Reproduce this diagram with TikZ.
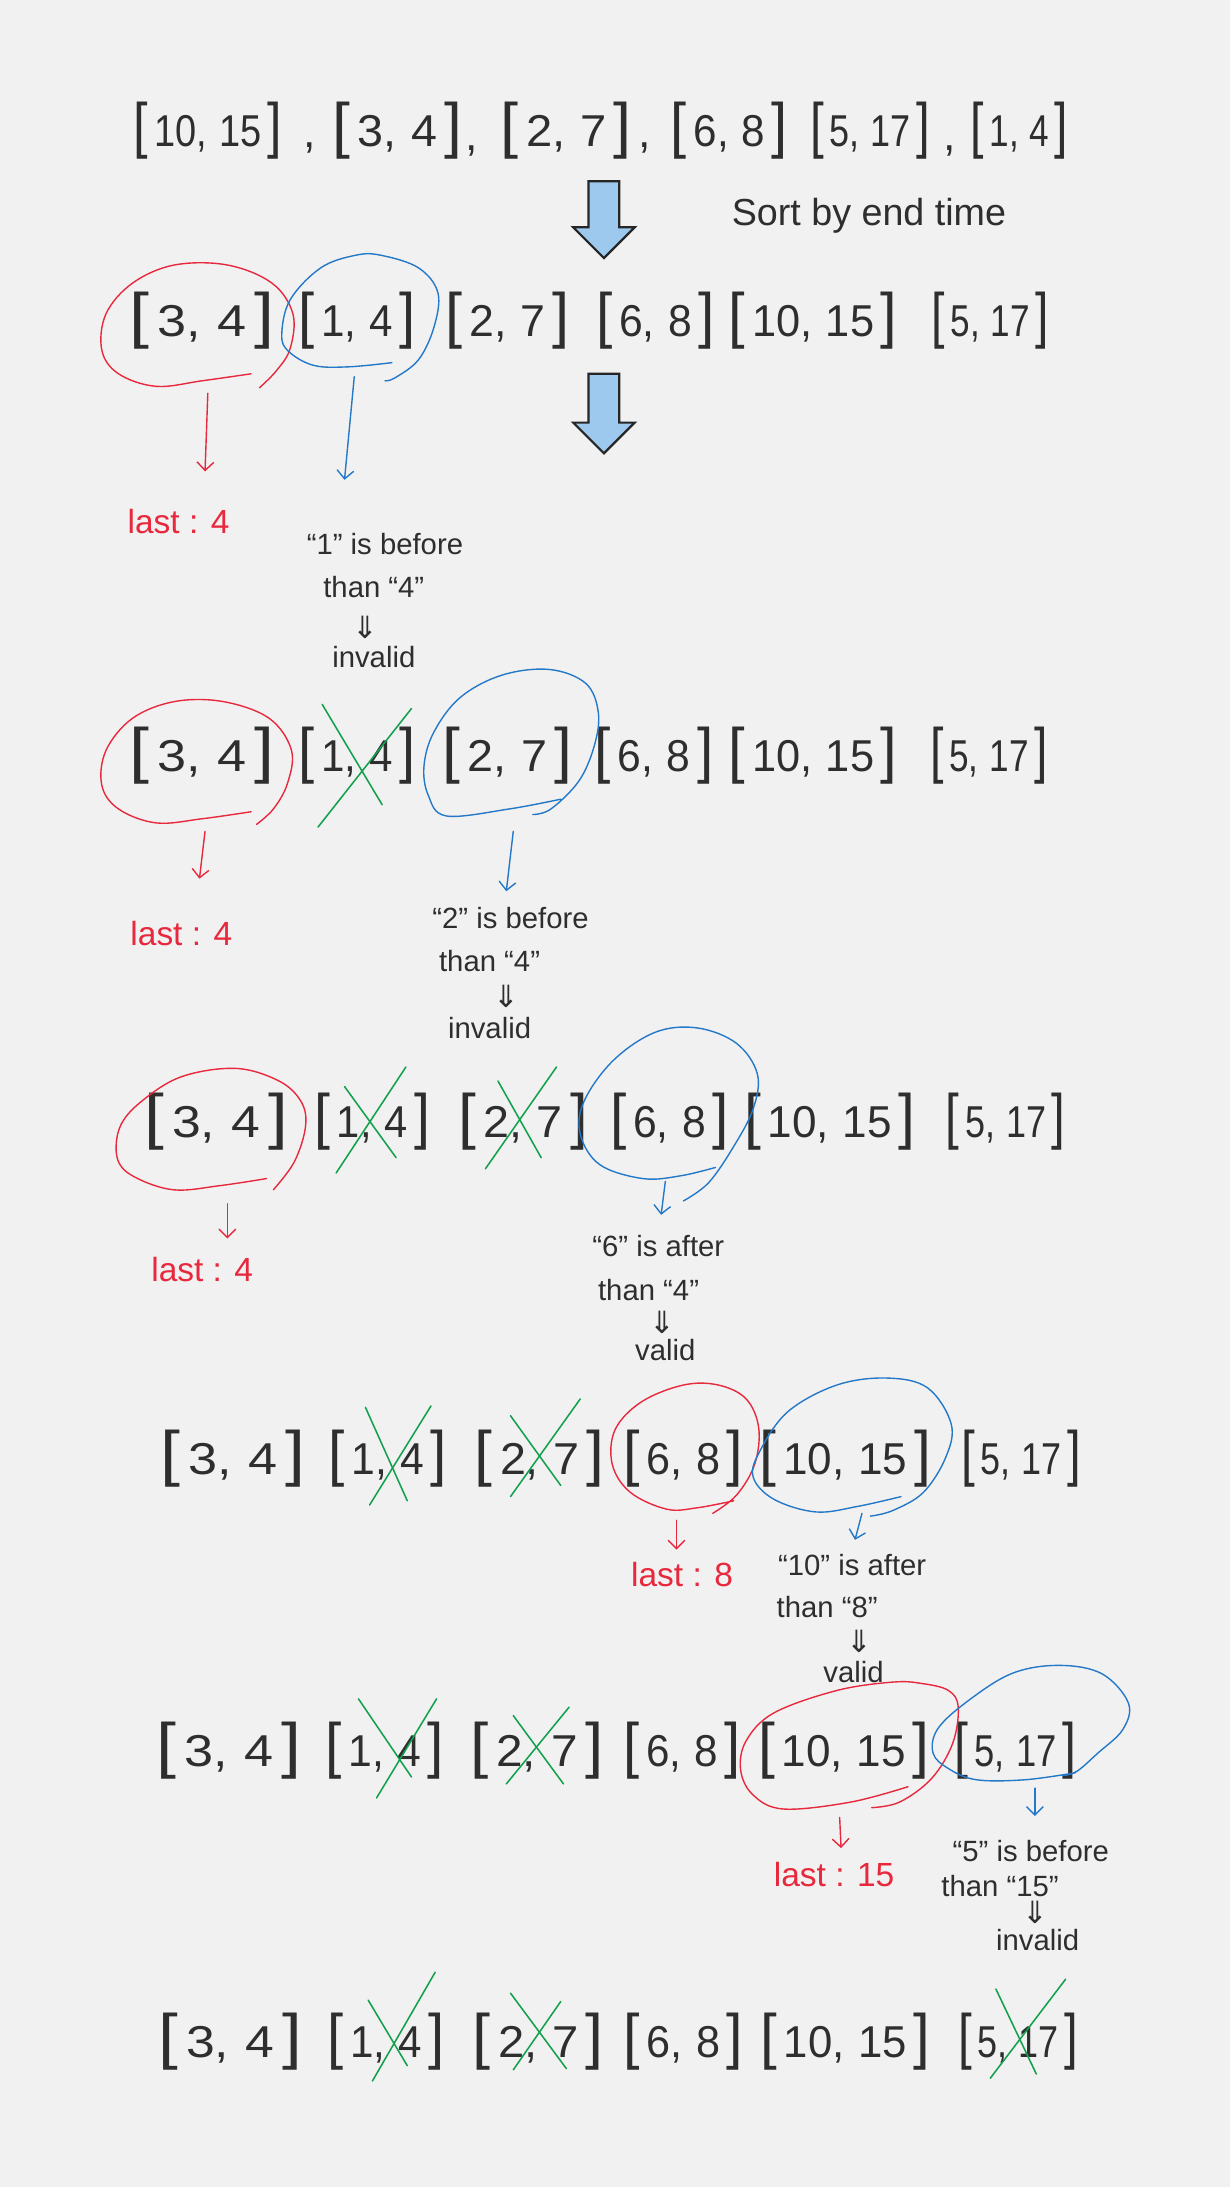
\documentclass[tikz,border=0pt]{standalone}
\usepackage{graphicx}
\usepackage{fontspec}
\setmainfont{Liberation Sans}
\newfontfamily\symf{DejaVu Sans}
\usetikzlibrary{arrows.meta}
\definecolor{bg}{HTML}{F1F1F1}
\definecolor{ink}{HTML}{2E2E2E}
\definecolor{hred}{HTML}{E8283C}
\definecolor{hblue}{HTML}{2478C8}
\definecolor{hgreen}{HTML}{12A04C}
\definecolor{hfill}{HTML}{9DC9EE}
\newsavebox\ivbox
\newlength\ivlen
\newcommand\bigbr[1]{{\fontsize{44}{44}\selectfont#1}}
\newcommand\ivw[3]{\sbox\ivbox{\bigbr{[}\hspace{5pt}#2,\hspace{10pt}#3\hspace{5pt}\bigbr{]}}%
  \setlength\ivlen{\wd\ivbox}\pgfmathsetmacro\ivsc{#1/\ivlen}\scalebox{\ivsc}[1]{\usebox\ivbox}}
\tikzset{
  ivnode/.style={text=ink, font=\fontsize{32}{32}\selectfont, inner sep=0pt},
  commanode/.style={text=ink, font=\fontsize{32}{32}\selectfont, inner sep=0pt, anchor=base},
  redloop/.style={draw=hred, line width=1pt, line cap=round, line join=round},
  blueloop/.style={draw=hblue, line width=1pt, line cap=round, line join=round},
  crossline/.style={draw=hgreen, line width=1.1pt, line cap=round},
  redarrow/.style={draw=hred, line width=1pt, line cap=round, -{Straight Barb[length=6pt,width=12pt]}},
  bluearrow/.style={draw=hblue, line width=1pt, line cap=round, -{Straight Barb[length=6pt,width=12pt]}},
  redlabel/.style={text=hred, font=\fontsize{24}{24}\selectfont, inner sep=0pt},
  inklabel/.style={text=ink, font=\fontsize{21}{21}\selectfont, inner sep=0pt},
  dblarrow/.style={text=ink, font=\symf\fontsize{22}{22}\selectfont, inner sep=0pt},
  blockarrow/.style={draw=black!85, line width=1.6pt, fill=hfill, line join=miter},
}
\begin{document}
\begin{tikzpicture}[x=1pt,y=-1pt]
\fill[bg] (0,0) rectangle (882,1568);
\useasboundingbox (0,0) rectangle (882,1568);

% ---------- row 0 : unsorted ----------
\foreach \nm/\x/\w/\a/\b in {a/149/106/10/15, b/285/93/3/4, c/406/94/2/7, d/523/84/6/8, e/624/86/5/17, f/731/70/1/4}
  \node[ivnode] (r0\nm) at (\x,94) {\ivw{\w}{\a}{\b}};
\node[commanode] (c1) at (222,106) {,};
\node[commanode] (c2) at (338,108) {,};
\node[commanode] (c3) at (462,106) {,};
\node[commanode] (c4) at (681,108) {,};

% block arrow 1 + caption
\draw[blockarrow] (422,130) -- (444,130) -- (444,163) -- (455,163) -- (433,185) -- (411,163) -- (422,163) -- cycle;
\node[text=ink, font=\fontsize{27}{27}\selectfont, inner sep=0pt] (sortlab) at (623,155) {Sort by end time};

% ---------- row 1 ----------
\foreach \nm/\x/\w/\a/\b in {a/145/104/3/4, b/256/84/1/4, c/364/89/2/7, d/470/85/6/8, e/583/121/10/15, f/710/84/5/17}
  \node[ivnode] (r1\nm) at (\x,230) {\ivw{\w}{\a}{\b}};
\draw[redloop] plot[smooth, tension=0.6] coordinates {(180,268) (145,273) (112,277) (85,268) (73,251) (76,225) (95,203) (125,190) (163,190) (195,203) (210,225) (208,250) (198,266) (186,278)};
\draw[blueloop] plot[smooth, tension=0.6] coordinates {(281,260) (250,263) (225,262) (207,252) (202,240) (208,215) (230,192) (255,183) (273,183) (300,192) (314,210) (311,235) (300,258) (283,271) (276,273)};
\draw[blockarrow] (422,268) -- (444,268) -- (444,303) -- (455,303) -- (433,325) -- (411,303) -- (422,303) -- cycle;
\coordinate (a1rs) at (149,282); \coordinate (a1re) at (147,338);
\coordinate (a1bs) at (254,270); \coordinate (a1be) at (247,344);
\draw[redarrow] (a1rs) -- (a1re);
\draw[bluearrow] (a1bs) -- (a1be);
\node[redlabel] (last1) at (128,374) {last : 4};
\node[inklabel] (t1a) at (276,390) {``1'' is before};
\node[inklabel] (t1b) at (268,421) {than ``4''};
\node[dblarrow] (t1c) at (262,450) {⇓};
\node[inklabel] (t1d) at (268,471) {invalid};

% ---------- row 2 ----------
\foreach \nm/\x/\w/\a/\b in {a/145/104/3/4, b/256/84/1/4, c/364/93/2/7, d/469/85/6/8, e/583/121/10/15, f/709/84/5/17}
  \node[ivnode] (r2\nm) at (\x,542) {\ivw{\w}{\a}{\b}};
\draw[redloop] plot[smooth, tension=0.6] coordinates {(180,582) (145,587) (112,590) (85,580) (73,563) (76,538) (95,515) (125,503) (160,503) (193,515) (209,538) (206,562) (196,580) (184,591)};
\draw[crossline] (231,505) -- (274,577);
\draw[crossline] (295,508) -- (228,593);
\draw[blueloop] plot[smooth, tension=0.6] coordinates {(402,573) (365,580) (320,585) (307,570) (304,549) (311,525) (330,500) (360,484) (394,480) (420,490) (429,511) (426,535) (415,560) (395,580) (382,584)};
\coordinate (a2rs) at (147,596); \coordinate (a2re) at (143,630);
\coordinate (a2bs) at (368,596); \coordinate (a2be) at (363,639);
\draw[redarrow] (a2rs) -- (a2re);
\draw[bluearrow] (a2bs) -- (a2be);
\node[redlabel] (last2) at (130,669) {last : 4};
\node[inklabel] (t2a) at (366,658) {``2'' is before};
\node[inklabel] (t2b) at (351,689) {than ``4''};
\node[dblarrow] (t2c) at (363,714) {⇓};
\node[inklabel] (t2d) at (351,737) {invalid};

% ---------- row 3 ----------
\foreach \nm/\x/\w/\a/\b in {a/155/103/3/4, b/267/83/1/4, c/375/93/2/7, d/480/85/6/8, e/595/123/10/15, f/721/86/5/17}
  \node[ivnode] (r3\nm) at (\x,804) {\ivw{\w}{\a}{\b}};
\draw[redloop] plot[smooth, tension=0.6] coordinates {(191,845) (158,850) (124,853) (95,843) (84,830) (86,808) (101,790) (130,772) (169,766) (200,775) (216,790) (219,808) (211,833) (196,853)};
\draw[crossline] (247,779) -- (284,830);
\draw[crossline] (291,765) -- (241,841);
\draw[crossline] (357,775) -- (388,830);
\draw[crossline] (399,765) -- (348,838);
\draw[blueloop] plot[smooth, tension=0.6] coordinates {(513,837) (488,843) (461,845) (430,835) (416,813) (419,789) (440,760) (470,740) (500,737) (528,748) (543,770) (540,795) (526,822) (508,848) (490,861)};
\coordinate (a3rs) at (163,863); \coordinate (a3re) at (163,888);
\coordinate (a3bs) at (477,847); \coordinate (a3be) at (474,871);
\draw[redarrow] (a3rs) -- (a3re);
\draw[bluearrow] (a3bs) -- (a3be);
\node[redlabel] (last3) at (145,910) {last : 4};
\node[inklabel] (t3a) at (472,893) {``6'' is after};
\node[inklabel] (t3b) at (465,925) {than ``4''};
\node[dblarrow] (t3c) at (475,948) {⇓};
\node[inklabel] (t3d) at (477,968) {valid};

% ---------- row 4 ----------
\foreach \nm/\x/\w/\a/\b in {a/167/104/3/4, b/278/85/1/4, c/387/93/2/7, d/490/86/6/8, e/606/123/10/15, f/732/86/5/17}
  \node[ivnode] (r4\nm) at (\x,1046) {\ivw{\w}{\a}{\b}};
\draw[crossline] (262,1009) -- (292,1076);
\draw[crossline] (309,1008) -- (265,1079);
\draw[crossline] (366,1015) -- (402,1065);
\draw[crossline] (416,1003) -- (366,1073);
\draw[redloop] plot[smooth, tension=0.6] coordinates {(526,1076) (500,1081) (478,1082) (452,1070) (439,1050) (441,1025) (460,1005) (490,993) (515,993) (535,1003) (544,1024) (541,1050) (528,1072) (511,1085)};
\draw[blueloop] plot[smooth, tension=0.6] coordinates {(646,1073) (615,1080) (585,1084) (555,1075) (540,1059) (545,1040) (565,1012) (600,993) (636,988) (665,995) (682,1021) (678,1045) (662,1070) (640,1083) (624,1087)};
\coordinate (a4rs) at (485,1090); \coordinate (a4re) at (485,1111);
\coordinate (a4bs) at (618,1085); \coordinate (a4be) at (613,1104);
\draw[redarrow] (a4rs) -- (a4re);
\draw[bluearrow] (a4bs) -- (a4be);
\node[redlabel] (last4) at (489,1129) {last : 8};
\node[inklabel] (t4a) at (611,1122) {``10'' is after};
\node[inklabel] (t4b) at (593,1152) {than ``8''};
\node[dblarrow] (t4c) at (616,1177) {⇓};
\node[inklabel] (t4d) at (612,1199) {valid};

% ---------- row 5 ----------
\foreach \nm/\x/\w/\a/\b in {a/164/104/3/4, b/276/85/1/4, c/385/95/2/7, d/489/84/6/8, e/605/123/10/15, f/728/87/5/17}
  \node[ivnode] (r5\nm) at (\x,1255) {\ivw{\w}{\a}{\b}};
\draw[crossline] (257,1218) -- (295,1274);
\draw[crossline] (313,1218) -- (270,1289);
\draw[crossline] (368,1230) -- (404,1279);
\draw[crossline] (408,1224) -- (363,1279);
\draw[redloop] plot[smooth, tension=0.6] coordinates {(651,1281) (610,1292) (562,1297) (540,1287) (531,1269) (535,1248) (555,1228) (600,1212) (640,1206) (661,1207) (680,1212) (687,1224) (683,1250) (668,1275) (645,1292) (625,1296)};
\draw[blueloop] plot[smooth, tension=0.6] coordinates {(771,1271) (735,1276) (700,1276) (680,1268) (669,1257) (672,1240) (692,1221) (725,1200) (759,1194) (790,1200) (809,1221) (805,1240) (787,1257) (772,1270) (762,1273)};
\coordinate (a5rs) at (602,1303); \coordinate (a5re) at (603,1325);
\coordinate (a5bs) at (742,1282); \coordinate (a5be) at (742,1302);
\draw[redarrow] (a5rs) -- (a5re);
\draw[bluearrow] (a5bs) -- (a5be);
\node[redlabel] (last5) at (598,1344) {last : 15};
\node[inklabel] (t5a) at (739,1327) {``5'' is before};
\node[inklabel] (t5b) at (717,1352) {than ``15''};
\node[dblarrow] (t5c) at (742,1371) {⇓};
\node[inklabel] (t5d) at (744,1391) {invalid};

% ---------- row 6 ----------
\foreach \nm/\x/\w/\a/\b in {a/165/103/3/4, b/277/84/1/4, c/386/94/2/7, d/490/86/6/8, e/606/122/10/15, f/730/86/5/17}
  \node[ivnode] (r6\nm) at (\x,1464) {\ivw{\w}{\a}{\b}};
\draw[crossline] (264,1434) -- (292,1481);
\draw[crossline] (312,1414) -- (267,1492);
\draw[crossline] (366,1429) -- (406,1483);
\draw[crossline] (402,1435) -- (368,1484);
\draw[crossline] (714,1426) -- (743,1487);
\draw[crossline] (764,1419) -- (710,1490);
\end{tikzpicture}
\end{document}
